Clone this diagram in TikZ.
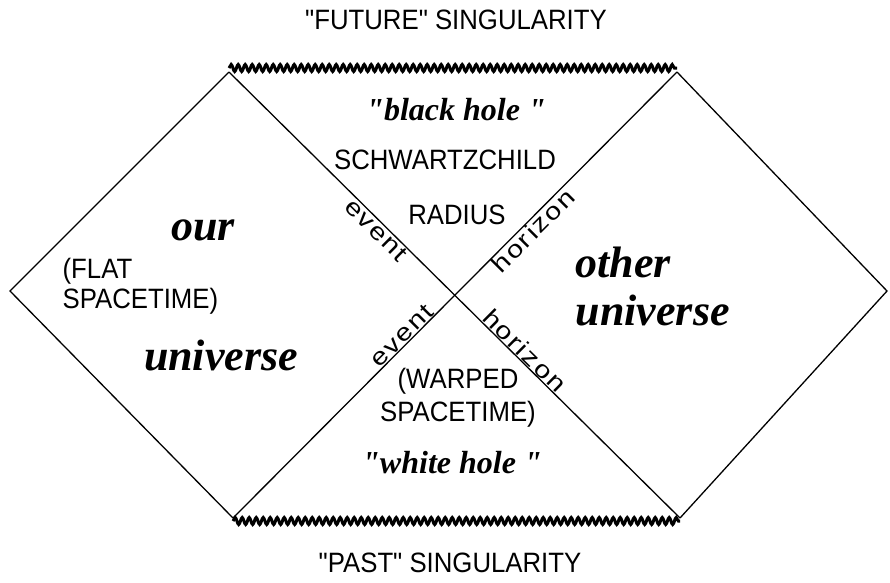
\documentclass[tikz,border=0pt]{standalone}
\usepackage{fontspec}
\setmainfont{Liberation Serif}
\newfontfamily\labelfont{Liberation Sans}[FakeStretch=0.92]
\newfontfamily\rimfont{Liberation Sans}[FakeStretch=1.2,LetterSpace=8]
\usetikzlibrary{decorations.pathmorphing}

\tikzset{
  caps/.style={font=\labelfont\fontsize{28}{30}\selectfont, inner sep=0pt},
  region/.style={font=\bfseries\itshape\fontsize{44}{48}\selectfont, inner sep=0pt},
  hole/.style={font=\bfseries\itshape\fontsize{32}{36}\selectfont, inner sep=0pt},
  rim/.style={font=\rimfont\fontsize{24}{26}\selectfont, inner sep=0.5pt, sloped},
  singular/.style={decorate, decoration={snake, segment length=7pt, amplitude=3.5pt}, line width=3pt},
}

\begin{document}
\begin{tikzpicture}[x=1pt, y=-1pt, line width=1.3pt]
    \useasboundingbox (0,0) rectangle (890,582);

    % corners
    \coordinate (L) at (10,291);
    \coordinate (T1) at (229,72);
    \coordinate (T2) at (677,72);
    \coordinate (R) at (887,291);
    \coordinate (B1) at (233,518);
    \coordinate (B2) at (680,518);
    \coordinate (C) at (intersection of T1--B2 and T2--B1);

    % outer diamonds
    \draw (T1) -- (L) -- (B1);
    \draw (T2) -- (R) -- (B2);

    % horizons
    \draw (T1) -- node[rim, below, pos=0.68] {event} (C)
               -- node[rim, above, pos=0.28] {horizon} (B2);
    \draw (B1) -- node[rim, above, pos=0.79] {event} (C)
               -- node[rim, below, pos=0.32] {horizon} (T2);

    % singularities
    \coordinate (S1) at ([yshift=4pt]T1);
    \coordinate (S2) at ([yshift=4pt]T2);
    \coordinate (S3) at ([yshift=-3pt]B1);
    \coordinate (S4) at ([yshift=-3pt]B2);
    \draw[singular] (S1) -- (S2);
    \draw[singular] (S3) -- (S4);

    \node[caps] (future) at (456,20) {"FUTURE" SINGULARITY};
    \node[caps] (past) at (450,563) {"PAST" SINGULARITY};

    % black hole region
    \node[hole] (bh) at (456,110) {\textquotedbl black hole \textquotedbl};
    \node[caps] (schw) at (445,160) {SCHWARTZCHILD};
    \node[caps] (radius) at (457,215) {RADIUS};

    % our universe
    \node[region] (our) at (203,230) {our};
    \node[caps, align=left, anchor=west] (flat) at (62,286) {(FLAT\\SPACETIME)};
    \node[region] (ouruni) at (221,355) {universe};

    % other universe
    \node[region, anchor=west] (other) at (575,262) {other};
    \node[region, anchor=west] (otheruni) at (575,310) {universe};

    % white hole region
    \node[caps, align=center] (warped) at (458,398) {(WARPED\\[3pt]SPACETIME)};
    \node[hole] (wh) at (452,463) {\textquotedbl white hole \textquotedbl};
\end{tikzpicture}
\end{document}
